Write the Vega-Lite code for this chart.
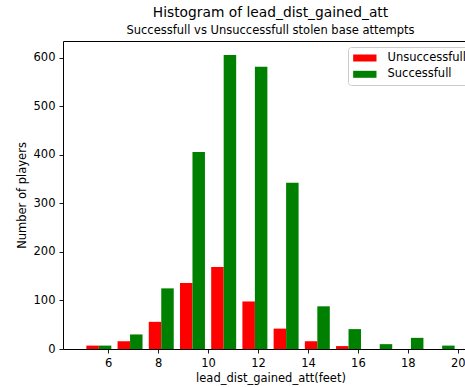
{
  "$schema": "https://vega.github.io/schema/vega-lite/v6.json",
  "autosize": {"type": "none"},
  "width": 415,
  "height": 308,
  "padding": {"left": 63, "top": 41, "right": 0, "bottom": 38},
  "background": "white",
  "title": {
    "text": "Histogram of lead_dist_gained_att",
    "subtitle": "Successfull vs Unsuccessfull stolen base attempts",
    "anchor": "middle",
    "font": "DejaVu Sans",
    "fontSize": 13.8,
    "fontWeight": "normal",
    "color": "black",
    "subtitleFont": "DejaVu Sans",
    "subtitleFontSize": 11.5,
    "subtitleColor": "black",
    "subtitlePadding": 5,
    "offset": 5
  },
  "data": {
    "values": [
      {"bin_start": 5.0, "bin_end": 6.25, "outcome": "Unsuccessfull", "count": 7},
      {"bin_start": 6.25, "bin_end": 7.5, "outcome": "Unsuccessfull", "count": 16},
      {"bin_start": 7.5, "bin_end": 8.75, "outcome": "Unsuccessfull", "count": 56},
      {"bin_start": 8.75, "bin_end": 10.0, "outcome": "Unsuccessfull", "count": 136},
      {"bin_start": 10.0, "bin_end": 11.25, "outcome": "Unsuccessfull", "count": 169},
      {"bin_start": 11.25, "bin_end": 12.5, "outcome": "Unsuccessfull", "count": 98},
      {"bin_start": 12.5, "bin_end": 13.75, "outcome": "Unsuccessfull", "count": 42},
      {"bin_start": 13.75, "bin_end": 15.0, "outcome": "Unsuccessfull", "count": 16},
      {"bin_start": 15.0, "bin_end": 16.25, "outcome": "Unsuccessfull", "count": 6},
      {"bin_start": 16.25, "bin_end": 17.5, "outcome": "Unsuccessfull", "count": 0},
      {"bin_start": 17.5, "bin_end": 18.75, "outcome": "Unsuccessfull", "count": 0},
      {"bin_start": 18.75, "bin_end": 20.0, "outcome": "Unsuccessfull", "count": 0},
      {"bin_start": 5.0, "bin_end": 6.25, "outcome": "Successfull", "count": 7},
      {"bin_start": 6.25, "bin_end": 7.5, "outcome": "Successfull", "count": 30},
      {"bin_start": 7.5, "bin_end": 8.75, "outcome": "Successfull", "count": 125},
      {"bin_start": 8.75, "bin_end": 10.0, "outcome": "Successfull", "count": 406},
      {"bin_start": 10.0, "bin_end": 11.25, "outcome": "Successfull", "count": 606},
      {"bin_start": 11.25, "bin_end": 12.5, "outcome": "Successfull", "count": 582},
      {"bin_start": 12.5, "bin_end": 13.75, "outcome": "Successfull", "count": 343},
      {"bin_start": 13.75, "bin_end": 15.0, "outcome": "Successfull", "count": 88},
      {"bin_start": 15.0, "bin_end": 16.25, "outcome": "Successfull", "count": 41},
      {"bin_start": 16.25, "bin_end": 17.5, "outcome": "Successfull", "count": 10},
      {"bin_start": 17.5, "bin_end": 18.75, "outcome": "Successfull", "count": 23},
      {"bin_start": 18.75, "bin_end": 20.0, "outcome": "Successfull", "count": 7}
    ]
  },
  "transform": [
    {"calculate": "datum.bin_start + (datum.bin_end - datum.bin_start) * (datum.outcome === 'Unsuccessfull' ? 0.1 : 0.5)", "as": "bar_left"},
    {"calculate": "datum.bar_left + 0.4 * (datum.bin_end - datum.bin_start)", "as": "bar_right"}
  ],
  "mark": {"type": "bar", "orient": "vertical", "cornerRadius": 0, "strokeWidth": 0},
  "encoding": {
    "x": {
      "field": "bar_left",
      "type": "quantitative",
      "scale": {"domain": [4.39, 20.61], "nice": false, "zero": false},
      "axis": {"values": [6, 8, 10, 12, 14, 16, 18, 20], "title": "lead_dist_gained_att(feet)"}
    },
    "x2": {"field": "bar_right"},
    "y": {
      "field": "count",
      "type": "quantitative",
      "scale": {"domain": [0, 635], "nice": false},
      "axis": {"values": [0, 100, 200, 300, 400, 500, 600], "title": "Number of players"}
    },
    "y2": {"datum": 0},
    "color": {
      "field": "outcome",
      "type": "nominal",
      "scale": {"domain": ["Unsuccessfull", "Successfull"], "range": ["#ff0000", "#008000"]},
      "legend": {
        "title": null,
        "orient": "none",
        "legendX": 285,
        "legendY": 6,
        "symbolType": "M-1,-0.6H3V0.6H-1Z",
        "symbolSize": 136,
        "symbolStrokeWidth": 0,
        "symbolOpacity": 1,
        "labelFont": "DejaVu Sans",
        "labelFontSize": 11.5,
        "labelColor": "black",
        "labelOffset": 22.5,
        "rowPadding": 4.3,
        "padding": 5,
        "strokeColor": "#cccccc",
        "fillColor": "white",
        "cornerRadius": 3
      }
    }
  },
  "config": {
    "view": {"stroke": "black", "strokeWidth": 1},
    "axis": {
      "grid": false,
      "domain": false,
      "tickColor": "black",
      "tickSize": 4,
      "tickWidth": 0.9,
      "labelFont": "DejaVu Sans",
      "labelFontSize": 11.5,
      "labelColor": "black",
      "labelPadding": 4,
      "titleFont": "DejaVu Sans",
      "titleFontSize": 11.5,
      "titleFontWeight": "normal",
      "titleColor": "black"
    },
    "axisX": {"titlePadding": 4},
    "axisY": {"titlePadding": 6}
  }
}
